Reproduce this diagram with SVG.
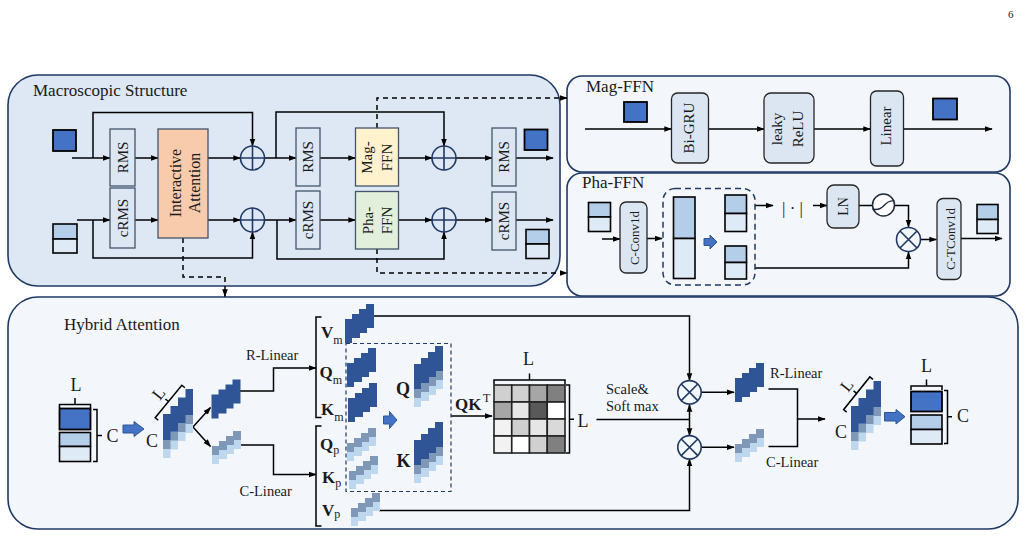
<svg xmlns="http://www.w3.org/2000/svg" width="1030" height="538" viewBox="0 0 1030 538">
<defs>
<style>
text{font-family:"Liberation Serif","Times New Roman",serif;fill:#1a1a1a}
.panel{stroke:#1f3864;stroke-width:1.6}
.pm{fill:#dde8f4}
.pl{fill:#f3f7fc}
.ptitle{font-size:17px}
.box{fill:#dde7f3;stroke:#44546a;stroke-width:1.3}
.fbox{fill:#dbe6f2;stroke:#262626;stroke-width:1.3}
.w{fill:none;stroke:#000;stroke-width:1.5}
.wa{fill:none;stroke:#000;stroke-width:1.5;marker-end:url(#ah)}
.dasha{fill:none;stroke:#000;stroke-width:1.5;stroke-dasharray:5 4;marker-end:url(#ah)}
.op{fill:none;stroke:#1f3864;stroke-width:1.6}
.dk{fill:#2f5597}
.gb{fill:#8098b8}
.lb{fill:#bdd7ee}
.mag{fill:#4472c4;stroke:#000;stroke-width:1.8}
.ph1{fill:#b4cde9;stroke:#000;stroke-width:1.6}
.ph2{fill:#deeaf6;stroke:#000;stroke-width:1.6}
.barr{fill:#4472c4;stroke:#2f5597;stroke-width:1}
.br{fill:none;stroke:#000;stroke-width:1.5}
.b{font-weight:bold;font-size:17px}
.sub{font-weight:normal;font-size:12px}
.lab{font-size:14.5px}
.dim{font-size:18px}
.rt{font-size:15px;text-anchor:middle}
.cell{stroke:#222;stroke-width:1.6}
</style>
<marker id="ah" viewBox="0 0 10 10" refX="9" refY="5" markerWidth="8" markerHeight="8" markerUnits="userSpaceOnUse" orient="auto">
<path d="M0,1.5 L10,5 L0,8.5 Z" fill="#000"/>
</marker>
<path id="sm" d="M0,15 H7 V10 H14 V5 H21 V0 H29 V24 H22 V29 H15 V34 H7 V39 H0 Z"/>
<path id="md" d="M0,18 H7 V12 H14 V6 H21 V0 H29 V25 H22 V31 H15 V37 H7 V43 H0 Z"/>
<path id="lg" d="M0,25 H7.5 V17 H15 V8.5 H22.5 V0 H30 V26 H22.5 V34 H15 V42.5 H7.5 V51 H0 Z"/>
<path id="th" d="M0,15 H7 V10 H14 V5 H21 V0 H29 V9 H22 V14 H15 V19 H7 V24 H0 Z"/>
</defs>

<text x="1008" y="18" font-size="11">6</text>

<!-- ============ Panels ============ -->
<g id="macro-panel">
<rect class="panel pm" x="8" y="75" width="552" height="211" rx="30"/>
<text class="ptitle" x="33" y="96">Macroscopic Structure</text>
</g>
<g id="magffn-panel">
<rect class="panel pl" x="567" y="76" width="443" height="96" rx="15"/>
<text class="ptitle" x="586" y="92">Mag-FFN</text>
</g>
<g id="phaffn-panel">
<rect class="panel pl" x="567" y="173" width="443" height="123" rx="15"/>
<text class="ptitle" x="582" y="188">Pha-FFN</text>
</g>
<g id="hybrid-panel">
<rect class="panel pl" x="8" y="297" width="1010" height="232" rx="30"/>
<text class="ptitle" x="64" y="330">Hybrid Attention</text>
</g>

<!-- ============ Connectors ============ -->
<g id="connectors">
<path class="wa" d="M72,158 H110"/>
<path class="wa" d="M93,158 V112.5 H252.5 V146"/>
<path class="wa" d="M135,158 H158"/>
<path class="wa" d="M208,158 H240.5"/>
<path class="wa" d="M264.5,158 H296"/>
<path class="wa" d="M276,158 V112 H444 V146"/>
<path class="wa" d="M320,158 H355.5"/>
<path class="wa" d="M398.5,158 H432"/>
<path class="wa" d="M456,158 H492"/>
<path class="wa" d="M516,158 H553"/>
<path class="wa" d="M77,220 H110"/>
<path class="wa" d="M93,220 V258 H252.5 V232"/>
<path class="wa" d="M135,220 H158"/>
<path class="wa" d="M208,220 H240.5"/>
<path class="wa" d="M264.5,220 H296"/>
<path class="wa" d="M277,220 V259 H444 V232"/>
<path class="wa" d="M320,220 H355.5"/>
<path class="wa" d="M398.5,220 H432"/>
<path class="wa" d="M456,220 H492"/>
<path class="wa" d="M516,220 H553"/>
<path class="dasha" d="M183,238 V277 H225 V296.5"/>
<path class="dasha" d="M377,128 V98 H567"/>
<path class="dasha" d="M377,249 V273 H567"/>
<path class="wa" d="M585,129 H671.5"/>
<path class="wa" d="M708.5,129 H764"/>
<path class="wa" d="M814,129 H870.5"/>
<path class="wa" d="M903.5,129 H992"/>
<path class="wa" d="M602,239 H620"/>
<path class="wa" d="M647,238.5 H662"/>
<path class="wa" d="M755,205.5 H773"/>
<path class="wa" d="M813,205.5 H827"/>
<path class="w" d="M859,205.5 H872.5"/>
<path class="wa" d="M894.5,205.5 H908.5 V227"/>
<path class="wa" d="M755,268 H908.5 V252"/>
<path class="wa" d="M920.5,239.5 H936.5"/>
<path class="wa" d="M961,238.5 H1002"/>
<path class="wa" d="M193,427 L210.5,407.5"/>
<path class="wa" d="M193,427 L210.5,446.5"/>
<path class="wa" d="M240,391 H273.5 V368 H316"/>
<path class="wa" d="M240,445 H273.5 V474.5 H316"/>
<path class="wa" d="M374,316 H689.5 V380.5"/>
<path class="wa" d="M379,510.5 H689.5 V459"/>
<path class="wa" d="M451,416 H492"/>
<path class="w" d="M596.5,419.5 H689.5"/>
<path class="wa" d="M689.5,419.5 V404.5"/>
<path class="wa" d="M689.5,419.5 V435.5"/>
<path class="wa" d="M701,392.3 H734"/>
<path class="wa" d="M701,447.3 H734"/>
<path class="w" d="M768.5,389 H797.5 V446.5 H768.5"/>
<path class="wa" d="M797.5,419 H825"/>
</g>

<!-- ============ Macroscopic nodes ============ -->
<g id="mac-in-mag"><rect class="mag" x="53" y="130" width="23" height="21"/></g>
<g id="mac-in-pha"><rect class="ph1" x="53" y="224" width="24" height="15"/><rect class="ph2" x="53" y="239" width="24" height="14"/></g>
<g id="rms1"><rect class="box" x="110" y="129" width="25" height="57"/><text class="rt" transform="translate(128,157.5) rotate(-90)">RMS</text></g>
<g id="crms1"><rect class="box" x="110" y="188" width="25" height="60"/><text class="rt" transform="translate(128,218) rotate(-90)">cRMS</text></g>
<g id="interactive-attention"><rect x="158" y="129" width="50" height="109" fill="#f8cbad" stroke="#44546a" stroke-width="1.3"/>
<text class="rt" style="font-size:16px" transform="translate(181,183) rotate(-90)">Interactive</text>
<text class="rt" style="font-size:16px" transform="translate(200,183) rotate(-90)">Attention</text></g>
<g id="add1"><circle class="op" cx="252.5" cy="158" r="12"/><path class="op" d="M240.5,158 H264.5 M252.5,146 V170"/></g>
<g id="add2"><circle class="op" cx="252.5" cy="220" r="12"/><path class="op" d="M240.5,220 H264.5 M252.5,208 V232"/></g>
<g id="rms2"><rect class="box" x="296" y="128" width="24" height="58"/><text class="rt" transform="translate(313,157) rotate(-90)">RMS</text></g>
<g id="crms2"><rect class="box" x="296" y="191" width="24" height="58"/><text class="rt" transform="translate(313,220) rotate(-90)">cRMS</text></g>
<g id="mag-ffn-block"><rect x="355.5" y="128" width="43" height="58" fill="#fff2cc" stroke="#44546a" stroke-width="1.3"/>
<text class="rt" transform="translate(371.5,157.5) rotate(-90)">Mag-</text>
<text class="rt" transform="translate(391.5,157.5) rotate(-90)">FFN</text></g>
<g id="pha-ffn-block"><rect x="355.5" y="191.5" width="43" height="57.5" fill="#e2efda" stroke="#44546a" stroke-width="1.3"/>
<text class="rt" transform="translate(372.5,220.5) rotate(-90)">Pha-</text>
<text class="rt" transform="translate(391.5,220.5) rotate(-90)">FFN</text></g>
<g id="add3"><circle class="op" cx="444" cy="158" r="12"/><path class="op" d="M432,158 H456 M444,146 V170"/></g>
<g id="add4"><circle class="op" cx="444" cy="220" r="12"/><path class="op" d="M432,220 H456 M444,208 V232"/></g>
<g id="rms3"><rect class="box" x="492" y="128" width="24" height="58"/><text class="rt" transform="translate(509,157) rotate(-90)">RMS</text></g>
<g id="crms3"><rect class="box" x="492" y="192" width="24" height="58"/><text class="rt" transform="translate(509,221) rotate(-90)">cRMS</text></g>
<g id="mac-out-mag"><rect class="mag" x="524.5" y="129.5" width="23" height="20.5"/></g>
<g id="mac-out-pha"><rect class="ph1" x="526" y="229.5" width="23" height="14.5"/><rect class="ph2" x="526" y="244" width="23" height="14.5"/></g>

<!-- ============ Mag-FFN nodes ============ -->
<g id="magffn-in"><rect class="mag" x="624" y="102" width="23" height="20"/></g>
<g id="bigru"><rect class="fbox" x="671.5" y="93" width="37" height="70" rx="6"/><text class="rt" transform="translate(694,128) rotate(-90)">Bi-GRU</text></g>
<g id="leaky-relu"><rect class="fbox" x="764" y="93" width="50" height="70" rx="7"/>
<text class="rt" transform="translate(782,129) rotate(-90)">leaky</text>
<text class="rt" transform="translate(803,129) rotate(-90)">ReLU</text></g>
<g id="linear"><rect class="fbox" x="870.5" y="91" width="33" height="75" rx="6"/><text class="rt" transform="translate(891,126) rotate(-90)">Linear</text></g>
<g id="magffn-out"><rect class="mag" x="933" y="98.5" width="24" height="21"/></g>

<!-- ============ Pha-FFN nodes ============ -->
<g id="phaffn-in"><rect class="ph1" x="588.5" y="202.5" width="22" height="14.5"/><rect class="ph2" x="588.5" y="217" width="22" height="14.5"/></g>
<g id="c-conv1d"><rect class="fbox" x="620" y="202" width="27" height="71" rx="6"/><text class="rt" style="font-size:13px" transform="translate(638.5,238) rotate(-90)">C-Conv1d</text></g>
<g id="split-group">
<rect x="663" y="188.5" width="92" height="96.5" rx="12" fill="none" stroke="#1f3864" stroke-width="1.5" stroke-dasharray="6 4"/>
<rect class="ph1" x="673.5" y="197" width="21.5" height="41.5"/>
<rect class="ph2" x="673.5" y="238.5" width="21.5" height="40"/>
<path class="barr" d="M704,238.5 H710 V235 L717,242 L710,249 V245.5 H704 Z"/>
<rect class="ph1" x="725" y="195" width="21.5" height="18.5"/>
<rect class="ph2" x="725" y="213.5" width="21.5" height="18"/>
<rect class="ph1" x="725" y="246" width="21.5" height="16.5"/>
<rect class="ph2" x="725" y="262.5" width="21.5" height="16.5"/>
</g>
<g id="abs"><text x="792.5" y="214" font-size="17" text-anchor="middle" fill="#555">| · |</text></g>
<g id="ln"><rect class="fbox" x="827" y="185" width="32" height="43" rx="7"/><text class="rt" style="font-size:14px" transform="translate(848,206.5) rotate(-90)">LN</text></g>
<g id="phase-op"><circle cx="883.5" cy="205" r="11" fill="#fff" stroke="#1f2a3a" stroke-width="1.5"/><path d="M872.5,209 Q879,211 884,205.5 T894.5,201" fill="none" stroke="#1f2a3a" stroke-width="1.4"/></g>
<g id="mul-pha"><circle class="op" cx="908.5" cy="239.5" r="12" stroke="#1f2a3a"/><path class="op" stroke="#1f2a3a" d="M900,231 L917,248 M917,231 L900,248"/></g>
<g id="c-tconv1d"><rect class="fbox" x="937" y="198.5" width="24" height="81" rx="6"/><text class="rt" style="font-size:13px" transform="translate(954.5,239) rotate(-90)">C-TConv1d</text></g>
<g id="phaffn-out"><rect class="ph1" x="977" y="204.5" width="21" height="15"/><rect class="ph2" x="977" y="219.5" width="21" height="14"/></g>

<!-- ============ Hybrid attention nodes ============ -->
<g id="hyb-input">
<text class="dim" x="76" y="391" text-anchor="middle">L</text>
<path class="br" d="M59.5,408 V404.5 H90.5 V408 M75,404.5 V398"/>
<rect class="mag" x="59.5" y="408.5" width="31" height="21"/>
<rect class="ph1" x="59.5" y="432.5" width="31" height="14"/>
<rect class="ph2" x="59.5" y="446.5" width="31" height="15"/>
<path class="br" d="M93,409.5 H97 V461.5 H93 M97,435.5 H102"/>
<text class="dim" x="112.5" y="442" text-anchor="middle">C</text>
</g>
<g id="hyb-arrow-in"><path class="barr" d="M123,425 H134 V421.5 L144,429 L134,436.5 V433 H123 Z"/></g>
<g id="hyb-tensor-in">
<text class="dim" x="152" y="447" text-anchor="middle">C</text>
<use href="#lg" x="163" y="407" class="lb"/>
<use href="#lg" x="163" y="398" class="gb"/>
<use href="#lg" x="163" y="389" class="dk"/>
<g transform="translate(168.5,401.5) rotate(-50.7)"><path class="br" d="M-21,4 V0 H21 V4 M0,0 V-4"/><text x="0" y="-7" font-size="17" text-anchor="middle">L</text></g>
</g>
<g id="hyb-mag-branch"><use href="#sm" x="211.5" y="379.5" class="dk"/></g>
<g id="hyb-pha-branch"><use href="#th" x="212" y="440" class="lb"/><use href="#th" x="212" y="431" class="gb"/></g>
<g id="r-linear-label"><text class="lab" x="246" y="360">R-Linear</text></g>
<g id="c-linear-label"><text class="lab" x="239.5" y="496">C-Linear</text></g>
<g id="brackets"><path class="br" d="M321.5,317 H316 V417.5 H321.5"/><path class="br" d="M321.5,426 H316 V526 H321.5"/></g>
<g id="vm"><text class="b" x="321" y="337.5">V<tspan class="sub" dy="6">m</tspan></text><use href="#sm" x="345" y="304" class="dk"/></g>
<g id="qm"><text class="b" x="319.5" y="377.5">Q<tspan class="sub" dy="6">m</tspan></text><use href="#sm" x="347" y="348" class="dk"/></g>
<g id="km"><text class="b" x="321" y="415">K<tspan class="sub" dy="6">m</tspan></text><use href="#sm" x="348" y="383" class="dk"/></g>
<g id="qp"><text class="b" x="320" y="450">Q<tspan class="sub" dy="4">p</tspan></text><use href="#th" x="347" y="437" class="lb"/><use href="#th" x="347" y="428" class="gb"/></g>
<g id="kp"><text class="b" x="322" y="483">K<tspan class="sub" dy="4">p</tspan></text><use href="#th" x="349" y="465" class="lb"/><use href="#th" x="349" y="456" class="gb"/></g>
<g id="vp"><text class="b" x="322" y="516">V<tspan class="sub" dy="2">p</tspan></text><use href="#th" x="351" y="502" class="lb"/><use href="#th" x="351" y="493" class="gb"/></g>
<g id="qk-group">
<rect x="346" y="343.5" width="105" height="148" fill="none" stroke="#1f3864" stroke-width="1.2" stroke-dasharray="4 3"/>
<path class="barr" d="M383.5,416 H389.5 V411.5 L397,420 L389.5,428.5 V424 H383.5 Z"/>
<text class="b" style="font-size:18px" x="403" y="394.5" text-anchor="middle">Q</text>
<use href="#md" x="414" y="364" class="lb"/><use href="#md" x="414" y="355" class="gb"/><use href="#md" x="414" y="346" class="dk"/>
<text class="b" style="font-size:18px" x="403.5" y="467" text-anchor="middle">K</text>
<use href="#md" x="414" y="440" class="lb"/><use href="#md" x="414" y="431" class="gb"/><use href="#md" x="414" y="422" class="dk"/>
</g>
<g id="qkt-label"><text class="b" x="455" y="410">QK</text><text x="483" y="402" font-size="12">T</text></g>
<g id="attn-matrix">
<text class="dim" x="528.5" y="365" text-anchor="middle">L</text>
<path class="br" d="M494,384.5 V380 H565 V384.5 M529.5,380 V373.5"/>
<rect class="cell" x="494" y="385" width="17.75" height="17" fill="#d0d0d0"/>
<rect class="cell" x="511.75" y="385" width="17.75" height="17" fill="#d0d0d0"/>
<rect class="cell" x="529.5" y="385" width="17.75" height="17" fill="#a6a6a6"/>
<rect class="cell" x="547.25" y="385" width="17.75" height="17" fill="#808080"/>
<rect class="cell" x="494" y="402" width="17.75" height="17" fill="#a6a6a6"/>
<rect class="cell" x="511.75" y="402" width="17.75" height="17" fill="#e6e6e6"/>
<rect class="cell" x="529.5" y="402" width="17.75" height="17" fill="#595959"/>
<rect class="cell" x="547.25" y="402" width="17.75" height="17" fill="#ffffff"/>
<rect class="cell" x="494" y="419" width="17.75" height="17" fill="#f2f2f2"/>
<rect class="cell" x="511.75" y="419" width="17.75" height="17" fill="#cfcfcf"/>
<rect class="cell" x="529.5" y="419" width="17.75" height="17" fill="#e6e6e6"/>
<rect class="cell" x="547.25" y="419" width="17.75" height="17" fill="#d9d9d9"/>
<rect class="cell" x="494" y="436" width="17.75" height="17" fill="#f2f2f2"/>
<rect class="cell" x="511.75" y="436" width="17.75" height="17" fill="#ffffff"/>
<rect class="cell" x="529.5" y="436" width="17.75" height="17" fill="#d0d0d0"/>
<rect class="cell" x="547.25" y="436" width="17.75" height="17" fill="#808080"/>
<path class="br" d="M566,385 H569.5 V453 H566 M569.5,419.3 H574"/>
<text class="dim" x="583" y="426.5" text-anchor="middle">L</text>
</g>
<g id="scale-softmax"><text class="lab" x="606" y="394">Scale&amp;</text><text class="lab" x="606" y="411">Soft max</text></g>
<g id="mul-mag"><circle class="op" cx="689.5" cy="392.3" r="11.7"/><path class="op" d="M681.2,384 L697.8,400.6 M697.8,384 L681.2,400.6"/></g>
<g id="mul-pha2"><circle class="op" cx="689.5" cy="447.3" r="11.7"/><path class="op" d="M681.2,439 L697.8,455.6 M697.8,439 L681.2,455.6"/></g>
<g id="out-mag-branch"><use href="#sm" x="735" y="363" class="dk"/><text class="lab" x="770" y="378">R-Linear</text></g>
<g id="out-pha-branch"><use href="#th" x="735" y="438" class="lb"/><use href="#th" x="735" y="429" class="gb"/><text class="lab" x="766" y="467">C-Linear</text></g>
<g id="hyb-tensor-out">
<use href="#lg" x="851" y="399" class="lb"/>
<use href="#lg" x="851" y="390" class="gb"/>
<use href="#lg" x="851" y="381" class="dk"/>
<g transform="translate(856.7,393.3) rotate(-51.3)"><path class="br" d="M-21,4 V0 H21 V4 M0,0 V-4"/><text x="0" y="-7" font-size="17" text-anchor="middle">L</text></g>
<text class="dim" x="841" y="437.5" text-anchor="middle">C</text>
</g>
<g id="hyb-arrow-out"><path class="barr" d="M884.5,412.5 H896 V409.5 L905,416.7 L896,424 V421 H884.5 Z"/></g>
<g id="hyb-output">
<text class="dim" x="926.5" y="372" text-anchor="middle">L</text>
<path class="br" d="M911,390 V386 H942 V390 M926.5,386 V379.5"/>
<rect class="mag" x="911" y="391.5" width="31" height="20"/>
<rect class="ph1" x="911" y="415" width="31" height="14.5"/>
<rect class="ph2" x="911" y="429.5" width="31" height="14.5"/>
<path class="br" d="M944,390.5 H947.5 V443.5 H944 M947.5,416.7 H952"/>
<text class="dim" x="963" y="422" text-anchor="middle">C</text>
</g>
</svg>
